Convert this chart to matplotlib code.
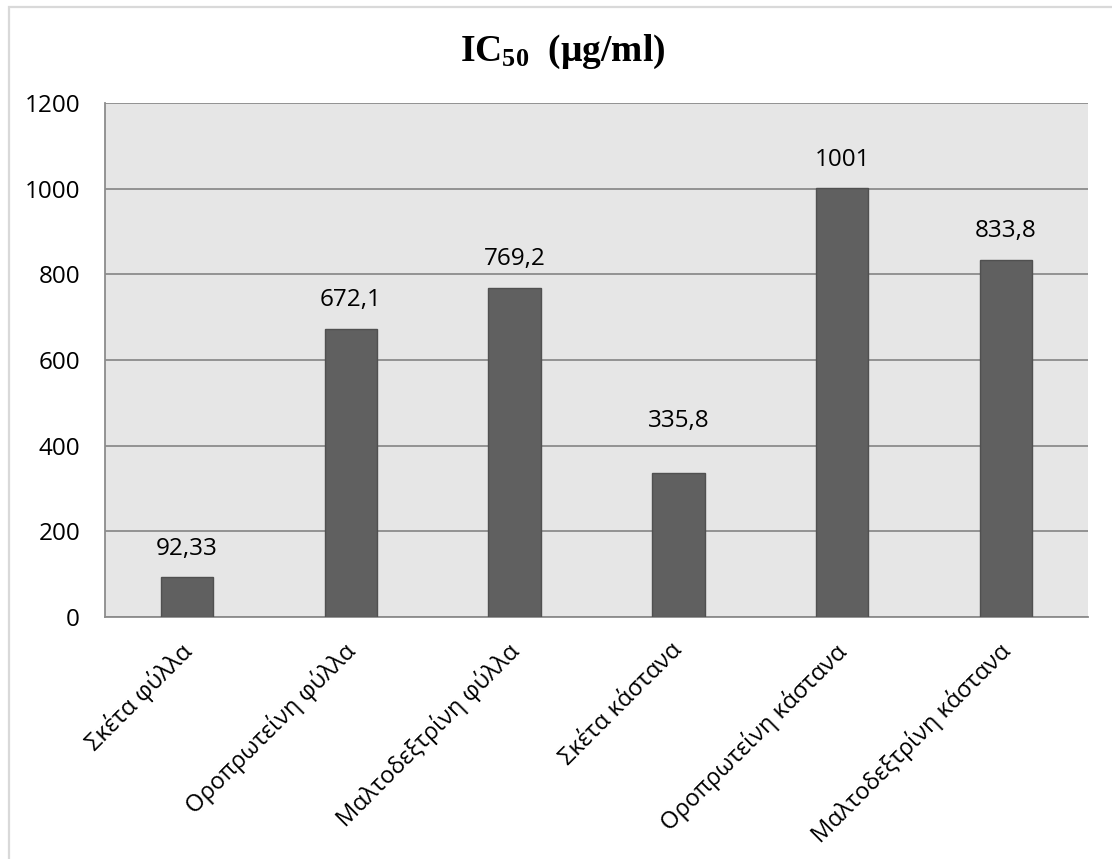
import matplotlib
matplotlib.use("Agg")
import matplotlib.pyplot as plt
from matplotlib.patches import Rectangle
from matplotlib.transforms import ScaledTranslation
import numpy as np

categories = ["Σκέτα φύλλα", "Οροπρωτείνη φύλλα", "Μαλτοδεξτρίνη φύλλα",
              "Σκέτα κάστανα", "Οροπρωτείνη κάστανα", "Μαλτοδεξτρίνη κάστανα"]
values = [92.33, 672.1, 769.2, 335.8, 1001, 833.8]
yticks = [0, 200, 400, 600, 800, 1000, 1200]
# label distance above bar top (points); the 335,8 label sits higher in the original
label_pad = [12, 12, 12, 29, 12, 12]

plt.rcParams['font.family'] = ['Open Sans', 'DejaVu Sans']
plt.rcParams['mathtext.fontset'] = 'custom'
plt.rcParams['mathtext.rm'] = 'Liberation Serif:bold'
plt.rcParams['mathtext.it'] = 'Liberation Serif:bold'
plt.rcParams['mathtext.bf'] = 'Liberation Serif:bold'

W, H = 1112, 859
fig = plt.figure(figsize=(W / 100, H / 100), dpi=100)

# chart border (only left/top visible in the original)
fig.add_artist(Rectangle((8.5 / W, -0.05), 1.2, 1.05 - 7.5 / H,
                         transform=fig.transFigure, fill=False,
                         edgecolor='#d9d9d9', linewidth=1.6))

ax = fig.add_axes([105 / W, 1 - 617 / H, (1088 - 105) / W, (617 - 103) / H])
ax.set_facecolor('#e6e6e6')

x = np.arange(len(values))
bars = ax.bar(x, values, width=0.32, color='#606060', edgecolor='#505050',
              linewidth=1, zorder=3)
labels = [f"{v:g}".replace('.', ',') for v in values]
for b, lab, p in zip(bars, labels, label_pad):
    ax.annotate(lab, (b.get_x() + b.get_width() / 2, b.get_height()),
                xytext=(0, p), textcoords='offset points',
                ha='center', va='bottom', fontsize=17.5, color='black')

ax.set_ylim(0, 1200)
ax.set_xlim(-0.5, len(values) - 0.5)
ax.set_yticks(yticks)
ax.yaxis.grid(True, color='#8c8c8c', linewidth=1.3, zorder=0)
ax.set_axisbelow(True)
ax.tick_params(axis='y', length=0, labelsize=17.5, pad=18)
ax.tick_params(axis='x', length=0)
ax.set_xticks(x)
ax.set_xticklabels(categories, rotation=45, ha='right', va='top',
                   rotation_mode='anchor', fontsize=17)
for lab in ax.get_xticklabels():
    lab.set_transform(lab.get_transform() +
                      ScaledTranslation(-0.08, -0.17, fig.dpi_scale_trans))

for side in ['top', 'right']:
    ax.spines[side].set_visible(False)
for side in ['left', 'bottom']:
    ax.spines[side].set_color('#8c8c8c')
    ax.spines[side].set_linewidth(1.3)

fig.text(563 / W, 1 - 52 / H, r"IC$_{50}$  (μg/ml)", ha='center', va='center',
         fontsize=27, fontweight='bold', family='Liberation Serif')

fig.savefig("out.png", dpi=100)
